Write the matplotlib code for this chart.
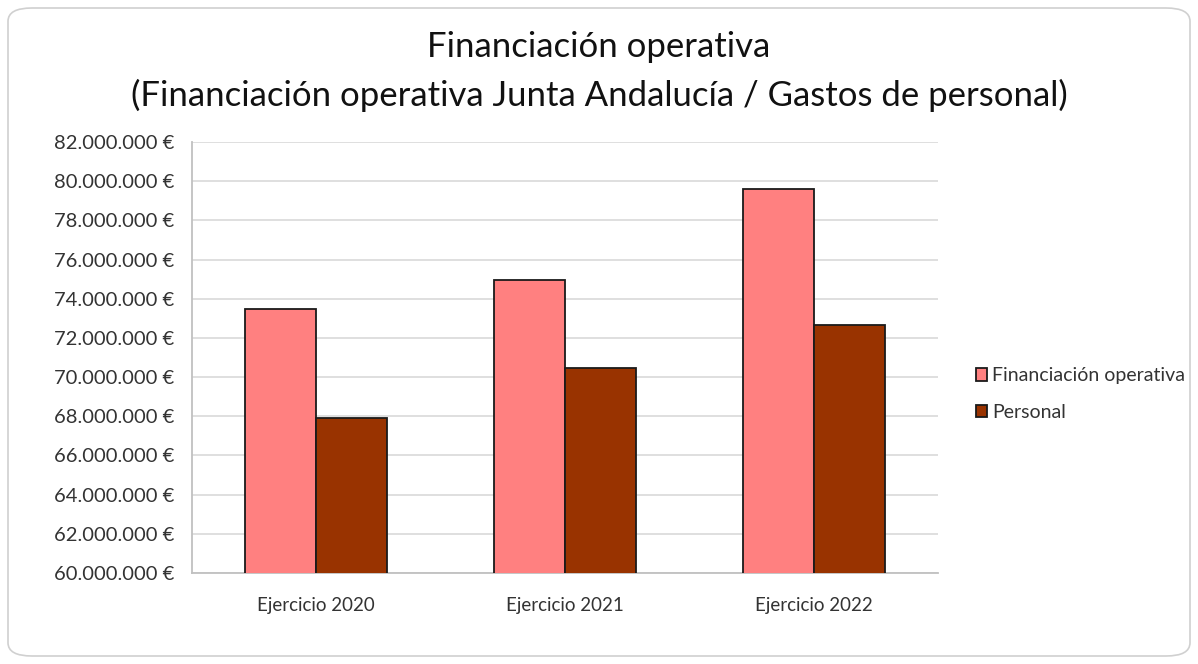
import matplotlib
matplotlib.use("Agg")
import matplotlib.pyplot as plt
import numpy as np
from matplotlib.patches import FancyBboxPatch
from matplotlib.ticker import FuncFormatter, MultipleLocator

categories = ["Ejercicio 2020", "Ejercicio 2021", "Ejercicio 2022"]
financiacion = [73460000, 74940000, 79610000]
personal = [67890000, 70470000, 72640000]
series_names = ["Financiación operativa", "Personal"]
title_lines = ["Financiación operativa",
               "(Financiación operativa Junta Andalucía / Gastos de personal)"]

plt.rcParams['font.family'] = ['Lato', 'DejaVu Sans']

fig = plt.figure(figsize=(11.98, 6.64), dpi=100)
fig.patch.set_facecolor("white")
border = FancyBboxPatch((8/1198, 8/664), 1182/1198, 648/664,
                        boxstyle="round,pad=0,rounding_size=0.02",
                        transform=fig.transFigure, facecolor="white",
                        edgecolor="#d0d0d0", linewidth=1.2, zorder=-1)
fig.patches.append(border)

ax = fig.add_axes([192/1198, 1 - 573/664, (938 - 192)/1198, (573 - 142)/664])
x = np.arange(len(categories))
w = 0.285
ax.bar(x - w/2, financiacion, w, color="#ff8080", edgecolor="#1a1a1a",
       linewidth=1.3, label=series_names[0], zorder=3)
ax.bar(x + w/2, personal, w, color="#993300", edgecolor="#1a1a1a",
       linewidth=1.3, label=series_names[1], zorder=3)

ax.set_xlim(-0.5, 2.5)
ax.set_ylim(60000000, 82000000)
ax.yaxis.set_major_locator(MultipleLocator(2000000))
ax.yaxis.set_major_formatter(FuncFormatter(
    lambda v, p: "{:,.0f}".format(v).replace(",", ".") + " €"))
ax.set_xticks(x)
ax.set_xticklabels(categories)
ax.tick_params(axis="both", length=0, colors="#333333")
ax.tick_params(axis="x", pad=17, labelsize=13.5)
ax.tick_params(axis="y", pad=13, labelsize=14.5)
ax.grid(axis="y", color="#d9d9d9", linewidth=1.2, zorder=0)
ax.set_axisbelow(True)
for s in ["top", "right"]:
    ax.spines[s].set_visible(False)
for s in ["left", "bottom"]:
    ax.spines[s].set_color("#c0c0c0")
    ax.spines[s].set_linewidth(1.3)

fig.text(0.5, 1 - 47/664, title_lines[0], ha="center", va="center",
         fontsize=25, color="#111111")
fig.text(0.5, 1 - 95/664, title_lines[1], ha="center", va="center",
         fontsize=25, color="#111111")

leg = ax.legend(loc="center left", bbox_to_anchor=(958/1198, 1 - 394/664),
                bbox_transform=fig.transFigure, frameon=False, fontsize=14,
                handlelength=0.6, handleheight=0.6, handletextpad=0.25,
                labelspacing=1.0, labelcolor="#333333")

fig.savefig("out.png", dpi=100, facecolor="white")
